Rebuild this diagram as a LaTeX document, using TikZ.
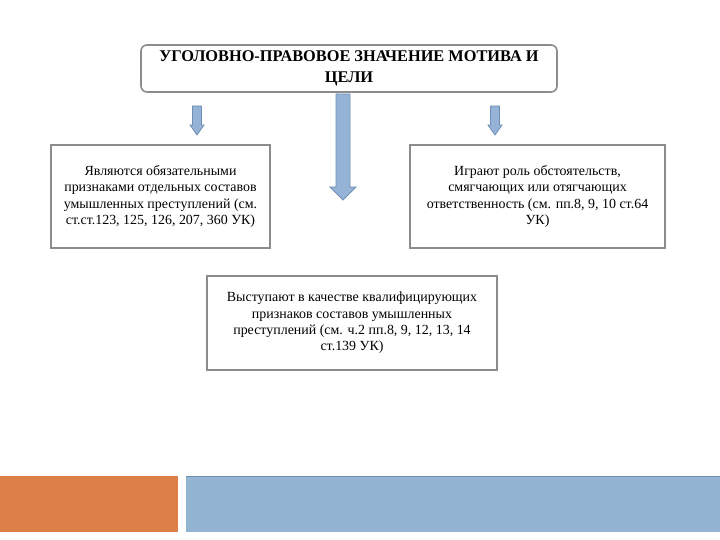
\documentclass[tikz,border=0pt]{standalone}
\usepackage{fontspec}
\setmainfont{Liberation Serif}
\usepackage{tikz}
\usetikzlibrary{positioning}
\definecolor{boxgray}{HTML}{8C8C8C}
\definecolor{arrowfill}{HTML}{95B3D7}
\definecolor{arrowline}{HTML}{6F8FB5}
\definecolor{bandorange}{HTML}{DD8047}
\definecolor{bandblue}{HTML}{94B4D4}
\tikzstyle{title} = [rectangle, rounded corners=6bp, draw=boxgray, line width=1.6bp, text centered, align=center, minimum height=47bp, minimum width=416bp, font=\fontsize{16.4}{21}\selectfont\bfseries]
\tikzstyle{block} = [rectangle, draw=boxgray, line width=1.8bp, text centered, align=center, font=\fontsize{14}{16.3}\selectfont]
\tikzstyle{blockarrow} = [fill=arrowfill, draw=arrowline, line width=0.8bp, line join=miter]
% down block arrow: top centre, shaft width, head width, shaft length, head length
\newcommand{\downblock}[5]{\draw [blockarrow] (#1) ++(-#2/2,0) -- ++(#2,0) -- ++(0,#4) -- ++(#3/2-#2/2,0) -- ++(-#3/2,#5) -- ++(-#3/2,-#5) -- ++(#3/2-#2/2,0) -- cycle;}

\begin{document}
\begin{tikzpicture}[x=1bp, y=-1bp]

    \useasboundingbox (0,0) rectangle (720,540);

    % Title
    \node (title) [title] at (349,68.5) {УГОЛОВНО-ПРАВОВОЕ ЗНАЧЕНИЕ МОТИВА И\\ЦЕЛИ};

    % Meaning blocks
    \node (feature) [block, minimum width=219bp, minimum height=103bp] at (160.5,196.5) {Являются обязательными\\признаками отдельных составов\\умышленных преступлений (см.\\ст.ст.123, 125, 126, 207, 360 УК)};
    \node (circum) [block, minimum width=255bp, minimum height=103bp] at (537.5,196.5) {Играют роль обстоятельств,\\смягчающих или отягчающих\\ответственность (см. пп.8, 9, 10 ст.64\\УК)};
    \node (qualify) [block, minimum width=290bp, minimum height=94bp] at (352,323) {Выступают в качестве квалифицирующих\\признаков составов умышленных\\преступлений (см. ч.2 пп.8, 9, 12, 13, 14\\ст.139 УК)};

    % Arrows
    \coordinate (arr_feature) at (197,106);
    \coordinate (arr_qualify) at (343,94);
    \coordinate (arr_circum) at (495,106);
    \downblock{arr_feature}{9}{14}{19}{10}
    \downblock{arr_qualify}{14}{26}{93}{13}
    \downblock{arr_circum}{9}{14}{19}{10}

    % Footer bands
    \fill [bandorange] (0,476) rectangle (178,532);
    \fill [bandblue] (186,476) rectangle (720,532);
    \draw [arrowline, line width=0.6bp] (186,476.5) -- (720,476.5);

\end{tikzpicture}
\end{document}
